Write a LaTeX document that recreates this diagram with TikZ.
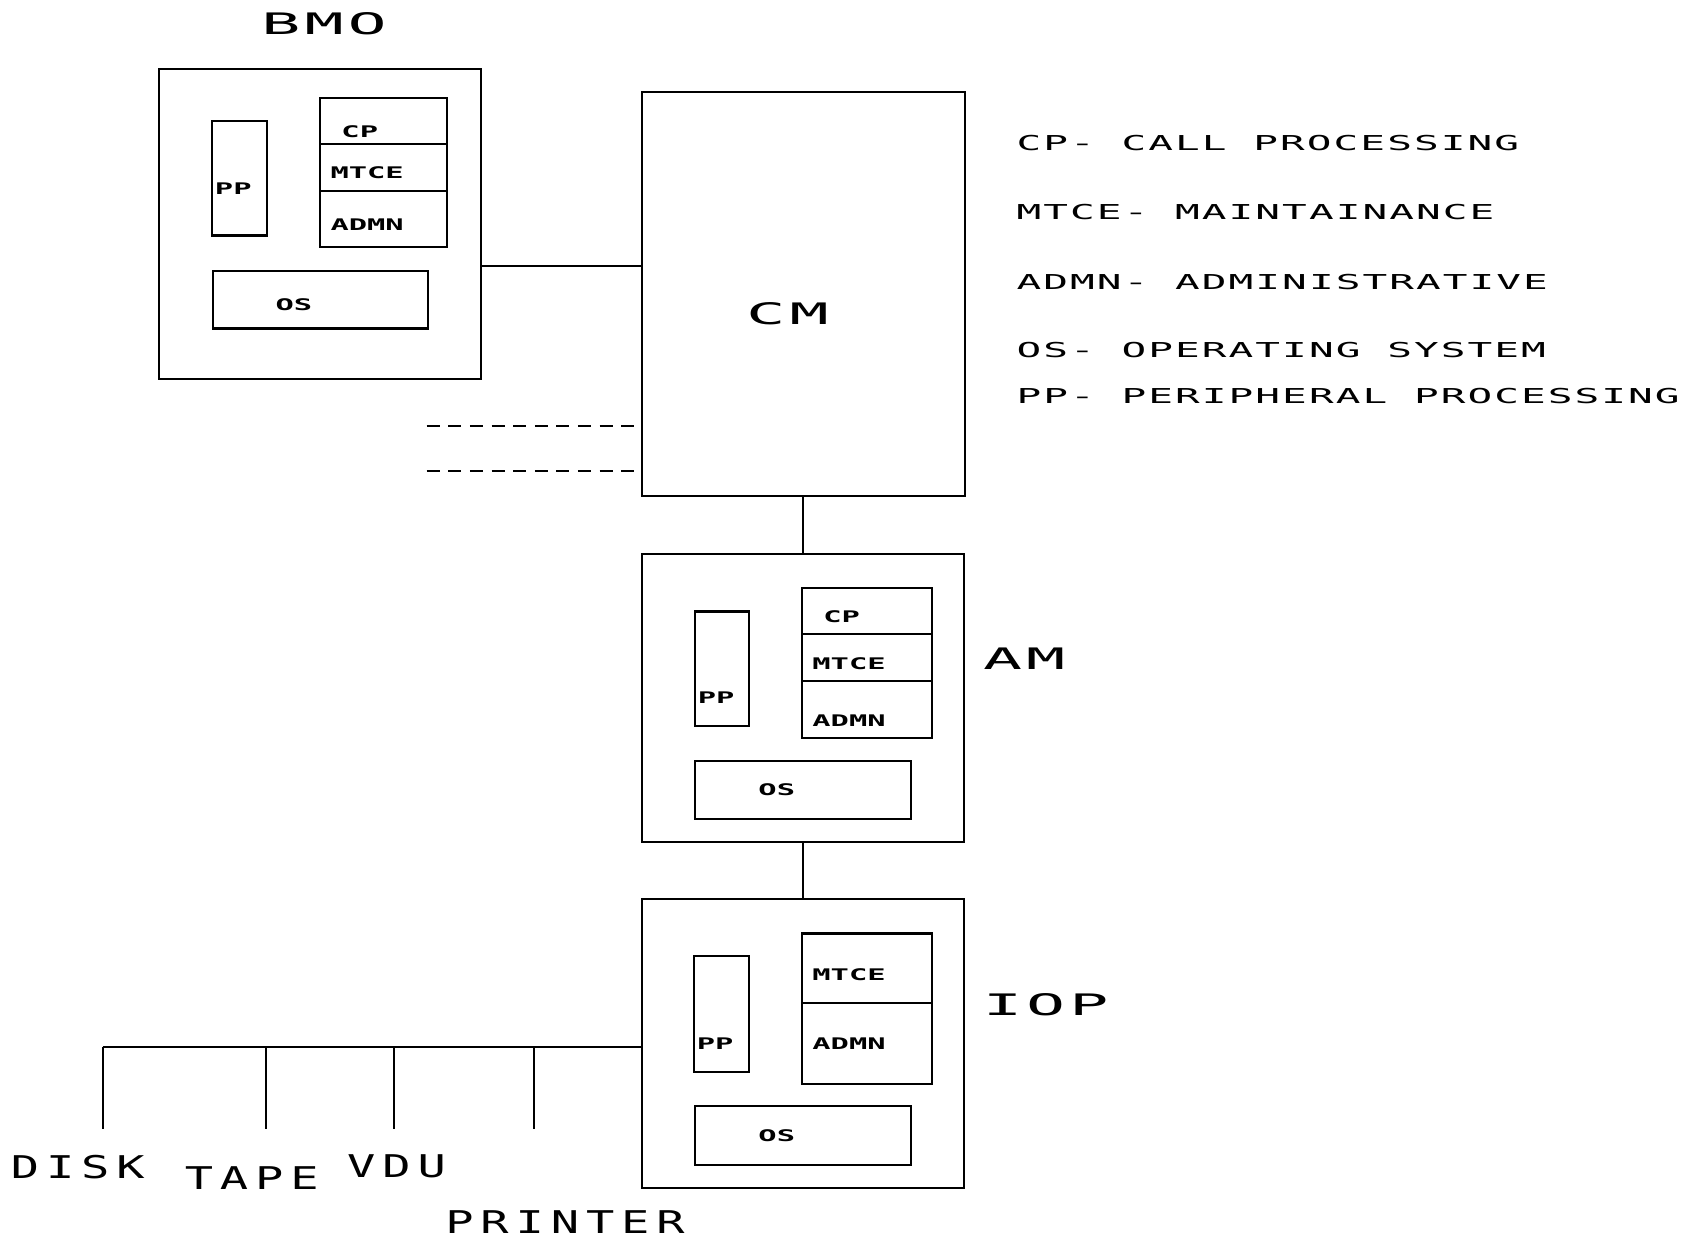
\documentclass[tikz,border=0pt]{standalone}
\usepackage{fontspec}
\newfontfamily\keyfont[FakeStretch=2.0,LetterSpace=10]{DejaVu Sans Mono}
\newfontfamily\titlefont[FakeStretch=2.19,LetterSpace=14]{DejaVu Sans Mono}
\newfontfamily\devicefont[FakeStretch=1.5,LetterSpace=22]{DejaVu Sans Mono}
\newfontfamily\tagfont[FakeStretch=1.9]{DejaVu Sans Mono}

\tikzset{
  box/.style={draw, inner sep=0pt, outer sep=0pt, anchor=north west},
  tag/.style={inner sep=0pt, font=\fontsize{14.8pt}{16pt}\tagfont\bfseries},
  title/.style={inner sep=0pt, font=\fontsize{27.4pt}{30pt}\titlefont},
  key/.style={inner sep=0pt, anchor=west, font=\fontsize{19pt}{21pt}\keyfont},
  device/.style={inner sep=0pt, font=\fontsize{29pt}{32pt}\devicefont},
  spare/.style={dash pattern=on 12pt off 8pt}
}

\begin{document}
\begin{tikzpicture}[x=1pt,y=-1pt,line width=2pt]
        \useasboundingbox[fill=white] (0,0) rectangle (1568,1148);
        % BMO
        \node[title] (bmoname) at (300,22) {BMO};
        \node[box, minimum width=298pt, minimum height=287pt] (bmo) at (147,64) {};
        \node[box, minimum width=51pt, minimum height=106pt] (bmopp) at (196,112) {};
        \node[box, minimum width=118pt, minimum height=42pt] (bmocp) at (296,91) {};
        \node[box, minimum width=118pt, minimum height=44pt] (bmomtce) at (bmocp.south west) {};
        \node[box, minimum width=118pt, minimum height=52pt] (bmoadmn) at (bmomtce.south west) {};
        \node[box, minimum width=199pt, minimum height=53pt] (bmoos) at (197,251) {};
        \node[tag, anchor=west] (bmopptxt) at (198,175) {PP};
        \node[tag] (bmocptxt) at (333,122) {CP};
        \node[tag, anchor=west] (bmomtcetxt) at (305,160) {MTCE};
        \node[tag, anchor=west] (bmoadmntxt) at (305,208) {ADMN};
        \node[tag] (bmoostxt) at (272,282) {OS};
        % CM
        \node[box, minimum width=299pt, minimum height=374pt] (cm) at (594,85) {};
        \node[title] (cmname) at (729,290) {CM};
        % AM
        \node[box, minimum width=298pt, minimum height=266pt] (am) at (594,513) {};
        \node[box, minimum width=50pt, minimum height=106pt] (ampp) at (643,566) {};
        \node[box, minimum width=121pt, minimum height=43pt] (amcp) at (742,544) {};
        \node[box, minimum width=121pt, minimum height=43pt] (ammtce) at (amcp.south west) {};
        \node[box, minimum width=121pt, minimum height=53pt] (amadmn) at (ammtce.south west) {};
        \node[box, minimum width=200pt, minimum height=54pt] (amos) at (643,704) {};
        \node[title] (amname) at (948,610) {AM};
        \node[tag, anchor=west] (ampptxt) at (645,646) {PP};
        \node[tag] (amcptxt) at (779,571) {CP};
        \node[tag, anchor=west] (ammtcetxt) at (751,614) {MTCE};
        \node[tag, anchor=west] (amadmntxt) at (751,667) {ADMN};
        \node[tag] (amostxt) at (719,731) {OS};
        % IOP
        \node[box, minimum width=298pt, minimum height=268pt] (iop) at (594,832) {};
        \node[box, minimum width=51pt, minimum height=107pt] (ioppp) at (642,885) {};
        \node[box, minimum width=121pt, minimum height=64pt] (iopmtce) at (742,864) {};
        \node[box, minimum width=121pt, minimum height=75pt] (iopadmn) at (iopmtce.south west) {};
        \node[box, minimum width=200pt, minimum height=54pt] (iopos) at (643,1024) {};
        \node[title] (iopname) at (968,930) {IOP};
        \node[tag, anchor=west] (ioppptxt) at (644,966) {PP};
        \node[tag, anchor=west] (iopmtcetxt) at (751,902) {MTCE};
        \node[tag, anchor=west] (iopadmntxt) at (751,966) {ADMN};
        \node[tag] (ioupostxt) at (719,1051) {OS};
        % legend
        \node[key] (keycp) at (940,132) {CP- CALL PROCESSING};
        \node[key] (keymtce) at (940,196) {MTCE- MAINTAINANCE};
        \node[key] (keyadmn) at (940,261) {ADMN- ADMINISTRATIVE};
        \node[key] (keyos) at (940,324) {OS- OPERATING SYSTEM};
        \node[key] (keypp) at (940,367) {PP- PERIPHERAL PROCESSING};
        % links
        \coordinate (bmolink) at (445,246);
        \draw (bmolink) -- (bmolink -| cm.west);
        \coordinate (spareone) at (395,394);
        \coordinate (sparetwo) at (395,436);
        \draw[spare] (spareone) -- (spareone -| cm.west);
        \draw[spare] (sparetwo) -- (sparetwo -| cm.west);
        \draw (cm.south) -- (cm.south |- am.north);
        \draw (am.south) -- (iop.north);
        % peripherals
        \node[device] (disk) at (72,1080) {DISK};
        \node[device] (tape) at (233,1090) {TAPE};
        \node[device] (vdu) at (367,1080) {VDU};
        \node[device] (printer) at (523,1131) {PRINTER};
        \coordinate (busdisk) at (95,969);
        \coordinate (bustape) at (246,969);
        \coordinate (busvdu) at (365,969);
        \coordinate (busprinter) at (494,969);
        \draw (busdisk) -- (busdisk -| iop.west);
        \foreach \dev in {busdisk,bustape,busvdu,busprinter}
            \draw (\dev) -- ++(0,76);
    \end{tikzpicture}
\end{document}
